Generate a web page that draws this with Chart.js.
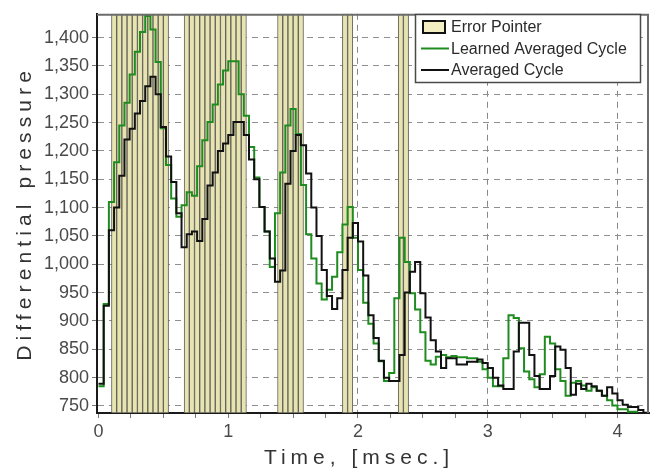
<!DOCTYPE html>
<html><head><meta charset="utf-8">
<script src="https://cdn.jsdelivr.net/npm/chart.js@4/dist/chart.umd.min.js"></script>
<style>html,body{margin:0;padding:0;background:#fff}</style>
</head><body>
<canvas id="c" width="656" height="472"></canvas>
<script>
// sample times (msec)
const time = [
  0.00,0.04,0.08,0.12,0.16,0.20,0.24,0.28,0.32,0.36,0.40,0.44,0.48,0.52,0.56,0.60,0.64,0.68,0.72,0.76,0.80,0.84,0.88,0.92,0.96,
  1.00,1.04,1.08,1.12,1.16,1.20,1.24,1.28,1.32,1.36,1.40,1.44,1.48,1.52,1.56,1.60,1.64,1.68,1.72,1.76,1.80,1.84,1.88,1.92,1.96,
  2.00,2.04,2.08,2.12,2.16,2.20,2.24,2.28,2.32,2.36,2.40,2.44,2.48,2.52,2.56,2.60,2.64,2.68,2.72,2.76,2.80,2.84,2.88,2.92,2.96,
  3.00,3.04,3.08,3.12,3.16,3.20,3.24,3.28,3.32,3.36,3.40,3.44,3.48,3.52,3.56,3.60,3.64,3.68,3.72,3.76,3.80,3.84,3.88,3.92,3.96,
  4.00,4.04,4.08,4.12,4.16,4.20,4.24
];
// Learned Averaged Cycle (green)
const learned = [
  785, 930, 1110, 1180, 1245, 1285, 1335, 1375, 1410, 1438,
  1414, 1357, 1240, 1175, 1116, 1084, 1104, 1127, 1121, 1173,
  1219, 1251, 1282, 1317, 1342, 1358, 1358, 1300, 1262, 1207,
  1153, 1101, 1058, 995, 1090, 1162, 1245, 1274, 1230, 1140,
  1053, 1010, 966, 938, 955, 978, 1021, 1070, 1101, 1047,
  990, 932, 895, 860, 829, 794, 808, 940, 1047, 1004,
  949, 920, 880, 830, 823, 837, 840, 836, 838, 836,
  836, 834, 834, 828, 815, 800, 785, 785, 834, 910,
  905, 852, 811, 797, 783, 806, 872, 860, 815, 794,
  768, 791, 794, 786, 777, 783, 777, 768, 760, 751,
  744, 744, 740, 740, 740
];
// Averaged Cycle (black)
const averaged = [
  789, 927, 1060, 1100, 1156, 1220, 1239, 1266, 1288, 1314,
  1331, 1300, 1242, 1190, 1145, 1090, 1030, 1053, 1058, 1041,
  1080, 1139, 1162, 1200, 1213, 1228, 1251, 1251, 1228, 1185,
  1150, 1101, 1058, 1010, 969, 989, 1142, 1200, 1228, 1210,
  1160, 1100, 1050, 990, 944, 921, 940, 990, 1047, 1073,
  1040, 980, 910, 870, 830, 800, 794, 794, 840, 950,
  987, 1004, 949, 906, 866, 846, 817, 834, 834, 823,
  823, 828, 828, 832, 826, 817, 800, 786, 780, 780,
  846, 897, 897, 840, 803, 780, 780, 803, 855, 849,
  817, 770, 789, 780, 789, 785, 777, 768, 783, 772,
  760, 752, 748, 748, 743, 738, 738
];
// Error Pointer flags (times, msec)
const errorTimes = [
  0.12,0.16,0.20,0.24,0.28,0.32,0.36,0.40,0.44,0.48,0.52,
  0.68,0.72,0.76,0.80,0.84,0.88,0.92,0.96,1.00,1.04,1.08,1.12,
  1.40,1.44,1.48,1.52,1.56,
  1.90,1.94,
  2.33,2.37
];
const xTickLabels = [0, 1, 2, 3, 4];

const FONT = '"Liberation Sans", Arial, sans-serif';
const BAR_FILL = '#e8e4b2';
const GREEN = '#1f8c1f';
const BLACK = '#111111';

const titleSpacing = {
  id: 'titleSpacing',
  beforeDraw(chart) {
    [['x', 5, -14], ['y', 5.1, 0]].forEach(([id, sp, dx]) => {
      const s = chart.scales[id];
      if (s && !s._spPatched) {
        const orig = s.drawTitle;
        s.drawTitle = function () {
          const c = this.ctx; c.save(); c.letterSpacing = sp + 'px'; c.translate(dx, 0); orig.call(this); c.restore();
        };
        s._spPatched = true;
      }
    });
  }
};

const frame = {
  id: 'frame',
  afterDatasetsDraw(chart) {
    const {ctx, chartArea: a} = chart;
    ctx.save();
    ctx.strokeStyle = '#6c6c6c'; ctx.lineWidth = 2;
    ctx.beginPath();
    ctx.moveTo(a.left, a.top + 1); ctx.lineTo(a.right - 1, a.top + 1); ctx.lineTo(a.right - 1, a.bottom);
    ctx.stroke();
    ctx.restore();
  }
};

const boxLegend = {
  id: 'boxLegend',
  afterDraw(chart) {
    const c = chart.ctx;
    const ds = chart.data.datasets;
    const byLabel = l => ds.find(d => d.label === l);
    const items = ['Error Pointer', 'Learned Averaged Cycle', 'Averaged Cycle'].map(byLabel);
    c.save();
    c.fillStyle = '#ffffff'; c.fillRect(415, 14, 226, 69);
    c.strokeStyle = '#4a4a4a'; c.lineWidth = 1.5; c.strokeRect(415.5, 14.5, 225, 68);
    c.font = '16px ' + FONT; c.textBaseline = 'middle'; c.fillStyle = '#2a2a2a';
    items.forEach((d, i) => {
      const y = 27 + i * 21.5;
      if (d.type === 'bar') {
        c.fillStyle = '#f2eec2'; c.fillRect(423, y - 6, 22, 12);
        c.strokeStyle = '#111'; c.lineWidth = 2; c.strokeRect(423, y - 6, 22, 12);
      } else {
        c.strokeStyle = d.borderColor; c.lineWidth = 2;
        c.beginPath(); c.moveTo(421, y); c.lineTo(449, y); c.stroke();
      }
      c.fillStyle = '#2a2a2a';
      c.fillText(d.label, 451, y + 1);
    });
    c.restore();
  }
};

new Chart(document.getElementById('c'), {
  data: {
    datasets: [
      { type: 'line', label: 'Averaged Cycle', data: averaged.map((v, i) => ({x: time[i], y: v})),
        borderColor: BLACK, borderWidth: 2, stepped: true, pointRadius: 0, fill: false, order: 0, yAxisID: 'y' },
      { type: 'line', label: 'Learned Averaged Cycle', data: learned.map((v, i) => ({x: time[i], y: v})),
        borderColor: GREEN, borderWidth: 2, stepped: true, pointRadius: 0, fill: false, order: 1, yAxisID: 'y' },
      { type: 'bar', label: 'Error Pointer', data: errorTimes.map(t => ({x: t, y: 1})),
        backgroundColor: BAR_FILL, borderColor: '#62625a', borderWidth: 1, borderSkipped: false,
        barPercentage: 1, categoryPercentage: 1, yAxisID: 'yBar', order: 2 }
    ]
  },
  options: {
    responsive: false, animation: false, devicePixelRatio: 1,
    layout: { padding: { top: 4, right: 7, left: 0, bottom: 0 } },
    plugins: { legend: { display: false }, tooltip: { enabled: false } },
    scales: {
      x: {
        type: 'linear', position: 'bottom', min: -0.0116, max: 4.243, offset: false,
        afterFit: s => { s.height = 59; },
        ticks: { stepSize: 0.25, includeBounds: false, autoSkip: false, maxRotation: 0, padding: 3,
          color: '#4a4a4a', font: { family: FONT, size: 18 },
          callback: v => xTickLabels.includes(v) ? String(v) : '' },
        grid: { offset: false, color: c => (c.tick && xTickLabels.includes(c.tick.value) && c.tick.value > 0) ? '#888' : 'rgba(0,0,0,0)',
          lineWidth: 1, tickLength: 5, tickColor: '#777', tickWidth: 1 },
        border: { display: true, color: '#1a1a1a', width: 2, dash: [6, 5] },
        title: { display: true, text: 'Time, [msec.]', color: '#333', font: { family: FONT, size: 21 }, padding: { top: 0, bottom: 1 } }
      },
      y: {
        type: 'linear', position: 'left', min: 737.6, max: 1441.9,
        afterFit: s => { s.width = 97; },
        ticks: { stepSize: 50, includeBounds: false, padding: 3, color: '#4a4a4a', font: { family: FONT, size: 18 },
          callback: v => v.toLocaleString('en-US') },
        grid: { color: '#8e8e8e', lineWidth: 1, tickLength: 5, tickColor: '#777' },
        border: { display: true, color: '#1a1a1a', width: 2, dash: [6, 5] },
        title: { display: true, text: 'Differential pressure', color: '#333', font: { family: FONT, size: 21 }, padding: { top: 13, bottom: 0 } }
      },
      yBar: { type: 'linear', display: false, min: 0, max: 1 }
    }
  },
  plugins: [titleSpacing, frame, boxLegend]
});
</script>
</body></html>
